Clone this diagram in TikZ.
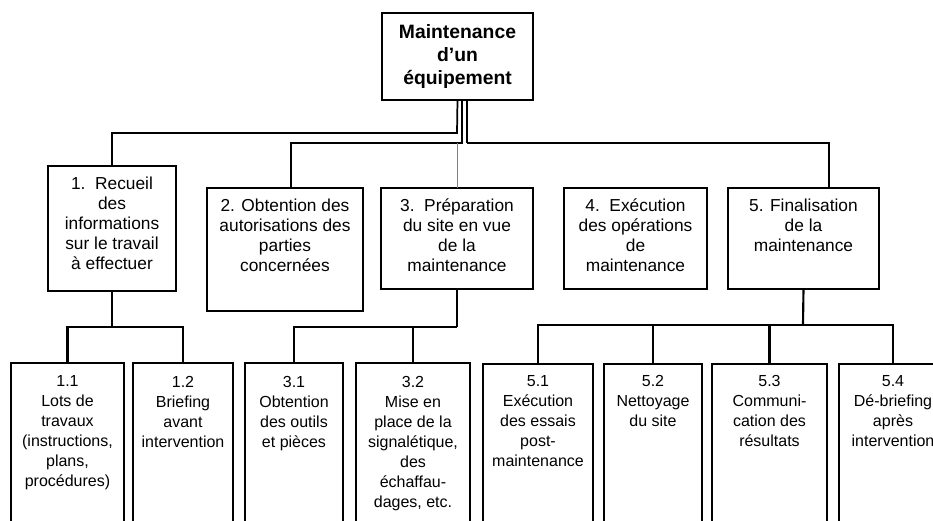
\documentclass[tikz,border=0pt]{standalone}
\usepackage{fontspec}
\setmainfont{Liberation Sans}
\begin{document}
\begin{tikzpicture}[x=0.75pt,y=-0.75pt,
  box/.style={draw, line width=1.6pt, inner sep=0pt, outer sep=0pt, anchor=north west},
  lbl/.style={anchor=north, align=center, inner sep=0pt, font=\fontsize{13}{15}\selectfont},
  slbl/.style={anchor=north, align=center, inner sep=0pt, font=\fontsize{12}{15}\selectfont},
  heavy/.style={line width=1.3pt},
  light/.style={line width=0.9pt},
  faint/.style={line width=0.7pt, black!50},
  bus/.style={line width=1.6pt}]
\useasboundingbox (0,0) rectangle (933,521);
\clip (0,0) rectangle (933,521);

% top box
\node[box, minimum width=151*0.75pt, minimum height=87*0.75pt] (top) at (382,13) {};
\node[align=center, inner sep=0pt, font=\fontsize{14.5}{17}\selectfont\bfseries] (ttop) at (top.center) {Maintenance\\d’un\\équipement};

% level 1
\node[box, minimum width=128*0.75pt, minimum height=125*0.75pt] (b1) at (48,166) {};
\node[box, minimum width=156*0.75pt, minimum height=123*0.75pt] (b2) at (207,188) {};
\node[box, minimum width=152*0.75pt, minimum height=101*0.75pt] (b3) at (381,188) {};
\node[box, minimum width=143*0.75pt, minimum height=101*0.75pt] (b4) at (564,188) {};
\node[box, minimum width=151*0.75pt, minimum height=101*0.75pt] (b5) at (728,188) {};

\node[lbl] (t1) at ([yshift=-8pt]b1.north) {1.~~Recueil\\des\\informations\\sur le travail\\à effectuer};
\node[lbl] (t2) at ([yshift=-8pt]b2.north) {2. Obtention des\\autorisations des\\parties\\concernées};
\node[lbl] (t3) at ([yshift=-8pt]b3.north) {3.~~Préparation\\du site en vue\\de la\\maintenance};
\node[lbl] (t4) at ([yshift=-8pt]b4.north) {4.~~Exécution\\des opérations\\de\\maintenance};
\node[lbl] (t5) at ([yshift=-8pt]b5.north) {5. Finalisation\\de la\\maintenance};

% level 2
\node[box, minimum width=113*0.75pt, minimum height=180*0.75pt] (b11) at (11,363) {};
\node[box, minimum width=100*0.75pt, minimum height=180*0.75pt] (b12) at (133,363) {};
\node[box, minimum width=98*0.75pt, minimum height=180*0.75pt] (b31) at (245,363) {};
\node[box, minimum width=114*0.75pt, minimum height=180*0.75pt] (b32) at (356,363) {};
\node[box, minimum width=110*0.75pt, minimum height=180*0.75pt] (b51) at (483,364) {};
\node[box, minimum width=98*0.75pt, minimum height=180*0.75pt] (b52) at (604,364) {};
\node[box, minimum width=115*0.75pt, minimum height=180*0.75pt] (b53) at (712,364) {};
\node[box, minimum width=108*0.75pt, minimum height=180*0.75pt] (b54) at (839,364) {};

\node[slbl] (t11) at ([yshift=-9.5pt]b11.north) {1.1\\Lots de\\travaux\\(instructions,\\plans,\\procédures)};
\node[slbl] (t12) at ([yshift=-9.5pt]b12.north) {1.2\\Briefing\\avant\\intervention};
\node[slbl] (t31) at ([yshift=-9.5pt]b31.north) {3.1\\Obtention\\des outils\\et pièces};
\node[slbl] (t32) at ([yshift=-9.5pt]b32.north) {3.2\\Mise en\\place de la\\signalétique,\\des\\échaffau-\\dages, etc.};
\node[slbl] (t51) at ([yshift=-8.5pt]b51.north) {5.1\\Exécution\\des essais\\post-\\maintenance};
\node[slbl] (t52) at ([yshift=-8.5pt]b52.north) {5.2\\Nettoyage\\du site};
\node[slbl] (t53) at ([yshift=-8.5pt]b53.north) {5.3\\Communi-\\cation des\\résultats};
\node[slbl] (t54) at ([yshift=-8.5pt]b54.north) {5.4\\Dé-briefing\\après\\intervention};

% top connectors
\coordinate (hA) at (457,133);
\coordinate (sB) at (462,100);
\coordinate (hB) at (462,143);
\coordinate (vB) at (291,143);
\coordinate (sC) at (467,100);
\coordinate (hC) at (467,143);
\coordinate (vC) at (829,143);
\draw[heavy] (top.south) -- (hA) -| (b1.north);
\draw[heavy] (sB) -- (hB) -- (vB) -- (vB |- b2.north);
\draw[faint] (b3.north |- hB) -- (b3.north);
\draw[heavy] (sC) -- (hC);
\draw[light] (hC) -- (vC) -- (vC |- b5.north);

% bottom connectors
\coordinate (j1) at (112,327);
\draw[bus] (b1.south) -- (j1);
\draw[bus] (b11.north) |- (j1) -| (b12.north);

\coordinate (j3) at (457,327);
\draw[bus] (b3.south) -- (j3);
\draw[bus] (b31.north) |- (j3);
\draw[bus] (b32.north) -- (b32.north |- j3);

\coordinate (j5) at (803,325);
\draw[bus] (b5.south) -- (j5);
\draw[bus] (b51.north) |- (j5) -| (b54.north);
\draw[bus] (b52.north) -- (b52.north |- j5);
\draw[bus] (b53.north) -- (b53.north |- j5);
\end{tikzpicture}
\end{document}
